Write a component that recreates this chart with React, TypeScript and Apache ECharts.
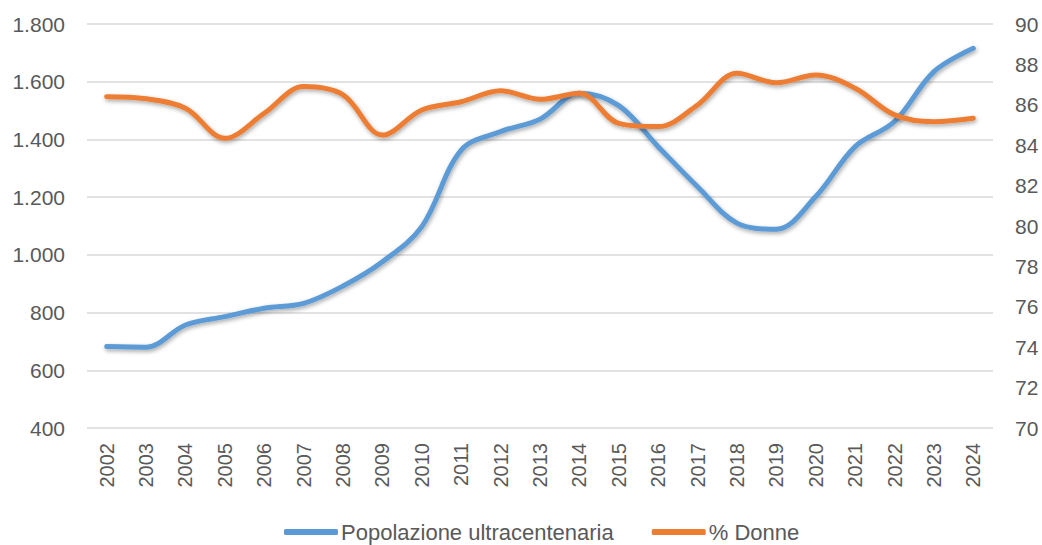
import React, { useEffect, useRef } from "react";
import * as echarts from "echarts";

const years = ["2002","2003","2004","2005","2006","2007","2008","2009","2010","2011","2012","2013","2014","2015","2016","2017","2018","2019","2020","2021","2022","2023","2024"];
const ultracentenari = [682, 680, 757, 786, 815, 832, 892, 976, 1098, 1363, 1427, 1470, 1560, 1517, 1375, 1236, 1110, 1089, 1202, 1375, 1462, 1635, 1716];
const percDonne = [86.4, 86.3, 85.83, 84.34, 85.58, 86.9, 86.49, 84.5, 85.74, 86.15, 86.7, 86.27, 86.57, 85.08, 84.92, 85.99, 87.56, 87.09, 87.48, 86.82, 85.5, 85.16, 85.33];
const leftTicks = { min: 400, max: 1800, interval: 200 };
const rightTicks = { min: 70, max: 90, interval: 2 };

const FONT = "'Liberation Sans', 'Open Sans', sans-serif";
const TXT = "#595959";

export default function App() {
  const ref = useRef<HTMLDivElement>(null);
  useEffect(() => {
    const chart = echarts.init(ref.current!, null, { renderer: "svg" });
    const shadow = { shadowColor: "rgba(0,0,0,0.35)", shadowBlur: 4, shadowOffsetY: 2, shadowOffsetX: 1 };
    chart.setOption({
      animation: false,
      textStyle: { fontFamily: FONT },
      grid: { left: 87, right: 49, top: 24, bottom: 117 },
      legend: {
        bottom: -3,
        left: 279,
        itemWidth: 54,
        itemHeight: 6,
        itemGap: 38,
        textStyle: { fontSize: 22, color: TXT, fontFamily: FONT, padding: [0, 0, 0, -2] },
        data: [
          { name: "Popolazione ultracentenaria", icon: "roundRect" },
          { name: "% Donne", icon: "roundRect" },
        ],
      },
      xAxis: {
        type: "category",
        data: years,
        boundaryGap: true,
        axisLine: { show: false },
        axisTick: { show: false },
        axisLabel: { rotate: 90, fontSize: 20, color: TXT, margin: 15, interval: 0 },
      },
      yAxis: [
        {
          type: "value",
          min: leftTicks.min,
          max: leftTicks.max,
          interval: leftTicks.interval,
          axisLine: { show: false },
          axisTick: { show: false },
          splitLine: { lineStyle: { color: "#d9d9d9", width: 1.5 } },
          axisLabel: {
            fontSize: 21,
            color: TXT,
            margin: 22,
            formatter: (v: number) => v.toString().replace(/\B(?=(\d{3})+(?!\d))/g, "."),
          },
        },
        {
          type: "value",
          min: rightTicks.min,
          max: rightTicks.max,
          interval: rightTicks.interval,
          axisLine: { show: false },
          axisTick: { show: false },
          splitLine: { show: false },
          axisLabel: { fontSize: 21, color: TXT, margin: 22 },
        },
      ],
      series: [
        {
          name: "Popolazione ultracentenaria",
          type: "line",
          yAxisIndex: 0,
          data: ultracentenari,
          smooth: 0.35,
          symbol: "none",
          color: "#5B9BD5",
          lineStyle: { width: 5, color: "#5B9BD5", cap: "round", ...shadow },
        },
        {
          name: "% Donne",
          type: "line",
          yAxisIndex: 1,
          data: percDonne,
          smooth: 0.35,
          symbol: "none",
          color: "#ED7D31",
          lineStyle: { width: 5, color: "#ED7D31", cap: "round", ...shadow },
        },
      ],
    });
    return () => chart.dispose();
  }, []);
  return <div ref={ref} style={{ width: 1042, height: 545, position: "absolute", left: 0, top: 0 }} />;
}
